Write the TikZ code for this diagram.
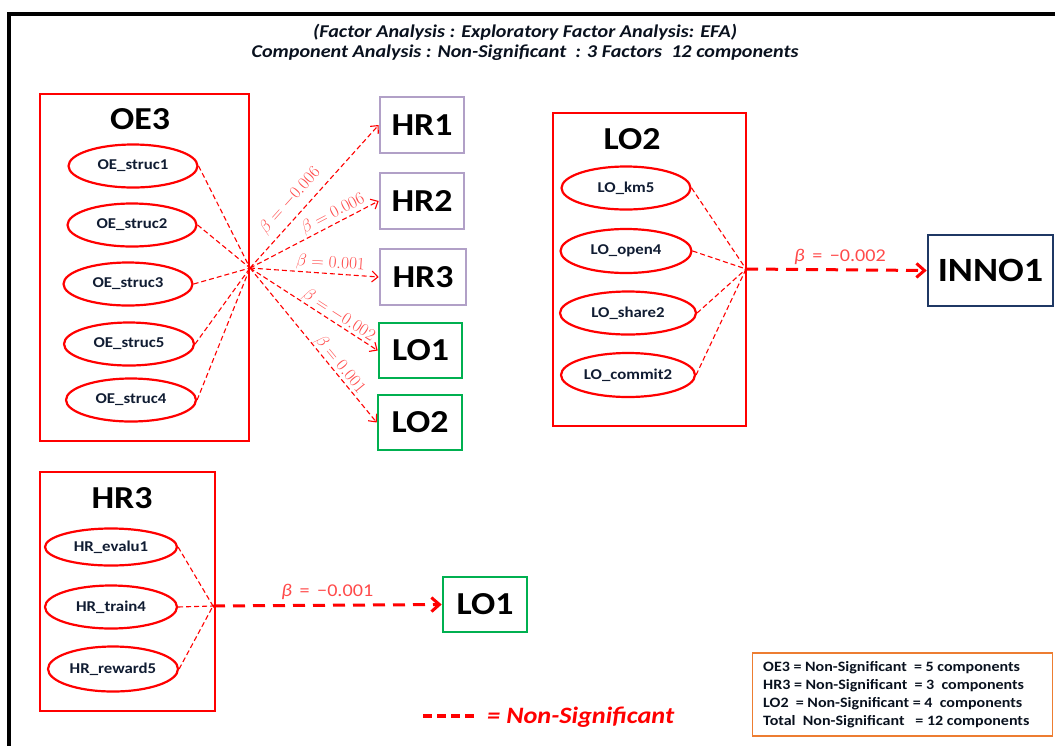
\documentclass[tikz,border=0pt]{standalone}
\usepackage{fontspec}
\setmainfont[FakeStretch=1.12]{Carlito}
\usetikzlibrary{arrows.meta,shapes.geometric}
\definecolor{lav}{HTML}{B1A0C7}
\definecolor{grn}{HTML}{00B050}
\definecolor{navy}{HTML}{1F3864}
\definecolor{orng}{HTML}{ED7D31}
\definecolor{lbl}{HTML}{FF4A4A}
\begin{document}
\begin{tikzpicture}[x=1pt,y=-1pt,
  groupbox/.style={draw=red, line width=2.6pt, inner sep=0pt},
  grouptitle/.style={font=\fontsize{32}{32}\selectfont\bfseries, text=black},
  latent/.style={ellipse, draw=red, line width=2.2pt, inner sep=0pt,
    font=\fontsize{15}{15}\selectfont\bfseries, text=navy!50!black},
  target/.style={draw, line width=2.6pt, inner sep=0pt,
    font=\fontsize{32}{32}\selectfont\bfseries, text=black},
  item/.style={draw=red, line width=1.1pt, dash pattern=on 5pt off 3pt},
  effect/.style={draw=red, line width=1.1pt, dash pattern=on 5pt off 3pt,
    -{Straight Barb[length=6pt,width=11pt,line width=1.1pt]}},
  bigeffect/.style={draw=red, line width=3pt, dash pattern=on 12pt off 8pt,
    -{Straight Barb[length=8pt,width=14pt,line width=3pt]}},
  coef/.style={text=lbl, font=\fontsize{17}{17}\selectfont, inner sep=2pt},
  coefsans/.style={text=lbl, font=\fontsize{18}{18}\selectfont, inner sep=4pt},
  ]
\useasboundingbox (0,0) rectangle (1055,745);

% outer frame
\coordinate (fbl) at (9,760);
\coordinate (ftl) at (9,14);
\coordinate (ftr) at (1070,14);
\draw[line width=4pt] (fbl) -- (ftl) -- (ftr);

% heading
\node[font=\fontsize{18}{18}\selectfont\bfseries\itshape, text=navy!30!black] (t1) at (525,32)
  {(Factor Analysis : Exploratory Factor Analysis: EFA)};
\node[font=\fontsize{18}{18}\selectfont\bfseries\itshape, text=navy!30!black] (t2) at (525,53)
  {Component Analysis : Non-Significant \ : 3 Factors \ 12 components};

% ---------- OE3 block ----------
\node[groupbox, minimum width=209pt, minimum height=347pt] (oe3) at (144.5,267.5) {};
\node[grouptitle] (oe3t) at (140,119) {OE3};
\node[latent, minimum width=129pt, minimum height=43pt] (oe1) at (133,166) {OE\_struc1};
\node[latent, minimum width=129pt, minimum height=43pt] (oe2) at (132,225) {OE\_struc2};
\node[latent, minimum width=129pt, minimum height=43pt] (oe3s) at (128,284) {OE\_struc3};
\node[latent, minimum width=130pt, minimum height=43pt] (oe5) at (129,344) {OE\_struc5};
\node[latent, minimum width=130pt, minimum height=43pt] (oe4) at (131,400) {OE\_struc4};
\coordinate (hubOE) at (250,268);
\foreach \n in {oe1,oe2,oe3s,oe5,oe4} \draw[item] (\n.east) -- (hubOE);

\node[target, draw=lav, minimum width=84pt, minimum height=56pt] (hr1) at (422,125) {HR1};
\node[target, draw=lav, minimum width=84pt, minimum height=56pt] (hr2) at (422,201) {HR2};
\node[target, draw=lav, minimum width=86pt, minimum height=56pt] (hr3) at (423,277) {HR3};
\node[target, draw=grn, minimum width=83pt, minimum height=55pt] (lo1) at (420.5,350.5) {LO1};
\node[target, draw=grn, minimum width=84pt, minimum height=55pt] (lo2) at (420,422.5) {LO2};

\draw[effect] (hubOE) -- node[coef, sloped, above, pos=0.40, inner sep=7pt] {$\beta = -0.006$} (hr1.west);
\draw[effect] (hubOE) -- node[coef, sloped, above, pos=0.68, inner sep=1.5pt] {$\beta = 0.006$} (hr2.west);
\draw[effect] (hubOE) -- node[coef, sloped, above, pos=0.62, inner sep=2pt] {$\beta = 0.001$} (hr3.west);
\draw[effect] (hubOE) -- node[coef, sloped, above, pos=0.66, inner sep=0pt] {$\beta = -0.002$} (lo1.west);
\draw[effect] (hubOE) -- node[coef, sloped, above, pos=0.66, inner sep=0pt] {$\beta = 0.001$} (lo2.west);

% ---------- LO2 block ----------
\node[groupbox, minimum width=193pt, minimum height=313pt] (lo2g) at (649.5,269.5) {};
\node[grouptitle] (lo2t) at (632,139) {LO2};
\node[latent, minimum width=129pt, minimum height=43pt] (lkm) at (626,188) {LO\_km5};
\node[latent, minimum width=131pt, minimum height=44pt] (lop) at (626,251) {LO\_open4};
\node[latent, minimum width=136pt, minimum height=43pt] (lsh) at (628,313) {LO\_share2};
\node[latent, minimum width=134pt, minimum height=44pt] (lco) at (628,375) {LO\_commit2};
\coordinate (hubLO) at (746,269);
\foreach \n in {lkm,lop,lsh,lco} \draw[item] (\n.east) -- (hubLO);
\node[target, draw=navy, minimum width=125pt, minimum height=71pt,
  font=\fontsize{34}{34}\selectfont\bfseries] (inno) at (990.5,270.5) {INNO1};
\draw[bigeffect] (hubLO) -- node[coefsans, above, pos=0.52]
  {\textit{β} \,=\, −0.002} (inno.west);

% ---------- HR3 block ----------
\node[groupbox, minimum width=175pt, minimum height=239pt] (hr3g) at (127.5,591.5) {};
\node[grouptitle] (hr3t) at (122,498) {HR3};
\node[latent, minimum width=132pt, minimum height=37pt] (hev) at (111,547) {HR\_evalu1};
\node[latent, minimum width=132pt, minimum height=43pt] (htr) at (111,607) {HR\_train4};
\node[latent, minimum width=130pt, minimum height=45pt] (hrw) at (113,669) {HR\_reward5};
\coordinate (hubHR) at (213,606);
\foreach \n in {hev,htr,hrw} \draw[item] (\n.east) -- (hubHR);
\node[target, draw=grn, minimum width=84pt, minimum height=55pt] (lo1b) at (485,604.5) {LO1};
\draw[bigeffect] (hubHR) -- node[coefsans, above, pos=0.5]
  {\textit{β} \,=\, −0.001} (lo1b.west);

% ---------- key ----------
\node[draw=orng, line width=1.6pt, minimum width=300pt, minimum height=83pt, inner sep=0pt]
  (key) at (902.5,694.5) {};
\node[anchor=north west, align=left, inner sep=0pt,
  font=\fontsize{14.3}{18}\selectfont\bfseries, text=navy!30!black] (keytxt) at (763,661)
  {OE3 = Non-Significant \ = 5 components\\
   HR3 = Non-Significant \ = 3 \ components\\
   LO2 \ = Non-Significant = 4 \ components\\
   Total \ Non-Significant \ \ = 12 components};

\coordinate (dashA) at (423,716);
\coordinate (dashB) at (474,716);
\draw[red, line width=3.2pt, dash pattern=on 9pt off 5pt] (dashA) -- (dashB);
\node[anchor=west, inner sep=0pt, text=red, font=\fontsize{23.5}{23.5}\selectfont\bfseries\itshape]
  (nstxt) at (487,717) {= Non-Significant};
\end{tikzpicture}
\end{document}
